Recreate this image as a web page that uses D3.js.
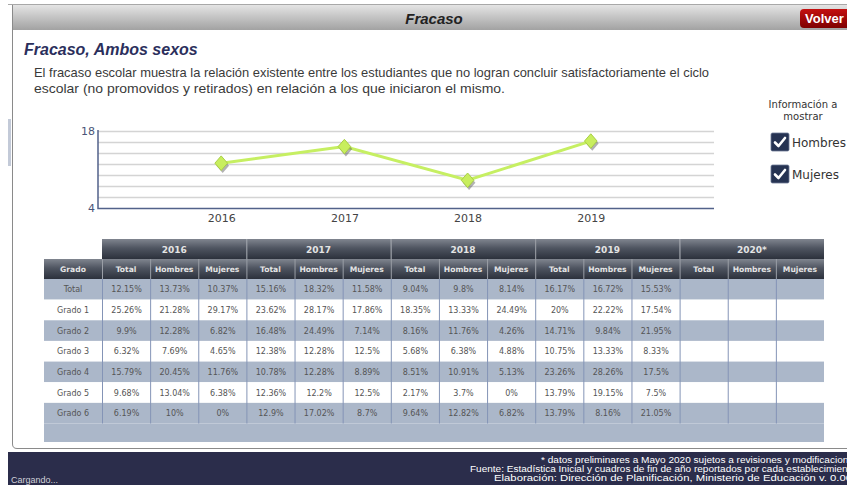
<!DOCTYPE html>
<html>
<head>
<meta charset="utf-8">
<script src="https://cdn.jsdelivr.net/npm/d3@7"></script>
<style>
  body { margin: 0; background: #fff; }
  svg { display: block; }
</style>
</head>
<body>
<div id="chart"></div>
<script>
// data
var years = ["2016", "2017", "2018", "2019", "2020*"];
var subCols = ["Total", "Hombres", "Mujeres"];
var grados = ["Total", "Grado 1", "Grado 2", "Grado 3", "Grado 4", "Grado 5", "Grado 6"];

var tabla2016 = [
  [12.15, 13.73, 10.37], [25.26, 21.28, 29.17], [9.9, 12.28, 6.82], [6.32, 7.69, 4.65],
  [15.79, 20.45, 11.76], [9.68, 13.04, 6.38], [6.19, 10, 0]];
var tabla2017 = [
  [15.16, 18.32, 11.58], [23.62, 28.17, 17.86], [16.48, 24.49, 7.14], [12.38, 12.28, 12.5],
  [10.78, 12.28, 8.89], [12.36, 12.2, 12.5], [12.9, 17.02, 8.7]];
var tabla2018 = [
  [9.04, 9.8, 8.14], [18.35, 13.33, 24.49], [8.16, 11.76, 4.26], [5.68, 6.38, 4.88],
  [8.51, 10.91, 5.13], [2.17, 3.7, 0], [9.64, 12.82, 6.82]];
var tabla2019 = [
  [16.17, 16.72, 15.53], [20, 22.22, 17.54], [14.71, 9.84, 21.95], [10.75, 13.33, 8.33],
  [23.26, 28.26, 17.5], [13.79, 19.15, 7.5], [13.79, 8.16, 21.05]];
var tabla2020 = [];

var chartYears = ["2016", "2017", "2018", "2019"];
var chartTotal = [12.15, 15.16, 9.04, 16.17];
var yTickLabels = [4, 18];

var tablas = [tabla2016, tabla2017, tabla2018, tabla2019, tabla2020];

var W = 847, H = 485;
var svg = d3.select("#chart").append("svg")
    .attr("width", W)
    .attr("height", H);

var defs = svg.append("defs");
function grad(id, stops) {
  var g = defs.append("linearGradient").attr("id", id)
      .attr("x1", 0).attr("y1", 0).attr("x2", 0).attr("y2", 1);
  stops.forEach(function(s) {
    g.append("stop").attr("offset", s[0]).attr("stop-color", s[1]);
  });
}
grad("hdr", [[0, "#e4e4e4"], [1, "#a2a2a2"]]);
grad("th", [[0, "#80858f"], [0.45, "#4f5561"], [1, "#2c313c"]]);
grad("volver", [[0, "#c41010"], [1, "#7e0000"]]);

var sans = "'Liberation Sans', Arial, sans-serif";
var verd = "'DejaVu Sans', Verdana, sans-serif";

// page frame
svg.append("line").attr("x1", 8).attr("x2", W).attr("y1", 4.5).attr("y2", 4.5)
    .attr("stroke", "#a8a8a8");
svg.append("rect").attr("x", 8).attr("y", 119).attr("width", 3).attr("height", 47)
    .attr("fill", "#c3cad8");
svg.append("path")
    .attr("d", "M12.5,5 L12.5,444 Q12.5,448.5 17,448.5 L" + W + ",448.5")
    .attr("fill", "none").attr("stroke", "#8a8a8a");

// header bar
svg.append("rect").attr("x", 13).attr("y", 5).attr("width", W - 13).attr("height", 25)
    .attr("fill", "url(#hdr)");
svg.append("text").attr("x", 434).attr("y", 24).attr("text-anchor", "middle")
    .style("font-family", sans).style("font-size", "15px")
    .style("font-weight", "bold").style("font-style", "italic").attr("fill", "#222")
    .text("Fracaso");
svg.append("rect").attr("x", 800).attr("y", 9).attr("width", 60).attr("height", 19)
    .attr("rx", 4).attr("fill", "url(#volver)");
svg.append("text").attr("x", 805).attr("y", 23)
    .style("font-family", sans).style("font-size", "13px")
    .style("font-weight", "bold").attr("fill", "#fff").text("Volver");

// titles
svg.append("text").attr("x", 24).attr("y", 55)
    .style("font-family", sans).style("font-size", "16px")
    .style("font-weight", "bold").style("font-style", "italic").attr("fill", "#2b2f5c")
    .text("Fracaso, Ambos sexos");
var desc = [
  { t: "El fracaso escolar muestra la relación existente entre los estudiantes que no logran concluir satisfactoriamente el ciclo", w: 675 },
  { t: "escolar (no promovidos y retirados) en relación a los que iniciaron el mismo.", w: 471 }];
svg.selectAll("text.desc").data(desc).enter().append("text")
    .attr("class", "desc")
    .attr("x", 34).attr("y", function(d, i) { return 77 + i * 16; })
    .attr("textLength", function(d) { return d.w; })
    .attr("lengthAdjust", "spacingAndGlyphs")
    .style("font-family", sans).style("font-size", "13.5px").attr("fill", "#3a3a3a")
    .text(function(d) { return d.t; });

// line chart
var x = d3.scalePoint().domain(chartYears).range([98, 714]).padding(1);
var y = d3.scaleLinear().domain([4, 18]).range([208, 131]);

var grid = svg.append("g");
grid.selectAll("line").data(y.ticks(7).filter(function(t) { return t > 4; }))
  .enter().append("line")
    .attr("x1", 98).attr("x2", 714)
    .attr("y1", function(d) { return y(d) + 0.5; })
    .attr("y2", function(d) { return y(d) + 0.5; })
    .attr("stroke", "#d4d4d4").attr("stroke-width", 1.5);

svg.append("path")
    .attr("d", "M98,130 L98,208.5 L714,208.5")
    .attr("fill", "none").attr("stroke", "#52628a").attr("stroke-width", 1.5);

svg.selectAll("text.ytick").data(yTickLabels).enter().append("text")
    .attr("class", "ytick")
    .attr("x", 95).attr("y", function(d) { return y(d) + 4; })
    .attr("text-anchor", "end")
    .style("font-family", verd).style("font-size", "11px").attr("fill", "#4a5578")
    .text(function(d) { return d; });

var xAxis = svg.append("g")
    .attr("transform", "translate(0,208)")
    .call(d3.axisBottom(x).tickSize(0).tickPadding(6));
xAxis.select(".domain").remove();
xAxis.selectAll("text").style("font-family", verd).style("font-size", "11px").attr("fill", "#444");

var pts = chartYears.map(function(d, i) { return [x(d), y(chartTotal[i])]; });
svg.append("path")
    .attr("d", d3.line()(pts))
    .attr("fill", "none").attr("stroke", "#c6ef62").attr("stroke-width", 3);

var diamond = {
  draw: function(ctx, size) {
    var r = Math.sqrt(size) / 2;
    ctx.moveTo(0, -r * 1.15);
    ctx.lineTo(r, 0);
    ctx.lineTo(0, r * 1.15);
    ctx.lineTo(-r, 0);
    ctx.closePath();
  }
};
var sym = d3.symbol().type(diamond).size(160);
svg.selectAll("path.shadow").data(pts).enter().append("path")
    .attr("class", "shadow")
    .attr("transform", function(d) { return "translate(" + (d[0] + 1.5) + "," + (d[1] + 2.5) + ")"; })
    .attr("d", sym).attr("fill", "#555").attr("opacity", 0.45);
svg.selectAll("path.mark").data(pts).enter().append("path")
    .attr("class", "mark")
    .attr("transform", function(d) { return "translate(" + d[0] + "," + d[1] + ")"; })
    .attr("d", sym).attr("fill", "#c8ee5e").attr("stroke", "#a9cf45").attr("stroke-width", 1);

// legend
svg.selectAll("text.leg").data(["Información a", "mostrar"]).enter().append("text")
    .attr("class", "leg")
    .attr("x", 803).attr("y", function(d, i) { return 108 + i * 12; })
    .attr("text-anchor", "middle")
    .style("font-family", verd).style("font-size", "10px").attr("fill", "#333")
    .text(function(d) { return d; });
var legItems = ["Hombres", "Mujeres"];
var lg = svg.selectAll("g.legitem").data(legItems).enter().append("g")
    .attr("class", "legitem")
    .attr("transform", function(d, i) { return "translate(771," + (133 + i * 32) + ")"; });
lg.append("rect").attr("width", 18).attr("height", 18).attr("rx", 1.5)
    .attr("fill", "#263352").attr("stroke", "#6c7895").attr("stroke-width", 0.8);
lg.append("path").attr("d", "M4,9.5 L7.5,13 L14,5")
    .attr("fill", "none").attr("stroke", "#fff").attr("stroke-width", 2.6)
    .attr("stroke-linecap", "round").attr("stroke-linejoin", "round");
lg.append("text").attr("x", 21).attr("y", 14)
    .style("font-family", verd).style("font-size", "12px").attr("fill", "#333")
    .text(function(d) { return d; });

// table
var colKeys = [];
years.forEach(function(yr) { subCols.forEach(function(c) { colKeys.push(yr + "|" + c); }); });
var tx0 = 44, tGradoX = 102, tx1 = 824;
var col = d3.scaleBand().domain(colKeys).range([tGradoX, tx1]);
var rowY = d3.scaleBand().domain(grados).range([279, 423.5]);
var yearBand = d3.scaleBand().domain(years).range([tGradoX, tx1]);

var tb = svg.append("g");
// year header
tb.selectAll("rect.yh").data(years).enter().append("rect")
    .attr("class", "yh")
    .attr("x", function(d) { return yearBand(d); }).attr("y", 239)
    .attr("width", yearBand.bandwidth()).attr("height", 20)
    .attr("fill", "url(#th)");
tb.append("rect").attr("x", tx0).attr("y", 259).attr("width", tx1 - tx0).attr("height", 20)
    .attr("fill", "url(#th)");
tb.selectAll("text.yh").data(years).enter().append("text")
    .attr("class", "yh")
    .attr("x", function(d) { return yearBand(d) + yearBand.bandwidth() / 2; }).attr("y", 252.5)
    .attr("text-anchor", "middle")
    .style("font-family", verd).style("font-size", "9px").style("font-weight", "bold")
    .attr("fill", "#e4e4e4").text(function(d) { return d; });
tb.append("text").attr("x", (tx0 + tGradoX) / 2).attr("y", 272).attr("text-anchor", "middle")
    .style("font-family", verd).style("font-size", "7.6px").style("font-weight", "bold")
    .attr("fill", "#e4e4e4").text("Grado");
tb.selectAll("text.sh").data(colKeys).enter().append("text")
    .attr("class", "sh")
    .attr("x", function(d) { return col(d) + col.bandwidth() / 2; }).attr("y", 272)
    .attr("text-anchor", "middle")
    .style("font-family", verd).style("font-size", "7.6px").style("font-weight", "bold")
    .attr("fill", "#e4e4e4").text(function(d) { return d.split("|")[1]; });
// header separators
tb.selectAll("line.ys").data(years.slice(1)).enter().append("line")
    .attr("class", "ys")
    .attr("x1", function(d) { return yearBand(d) + 0.5; }).attr("x2", function(d) { return yearBand(d) + 0.5; })
    .attr("y1", 239).attr("y2", 259).attr("stroke", "#9a9ea6");
tb.selectAll("line.ss").data([tGradoX].concat(colKeys.slice(1).map(function(k) { return col(k); })))
  .enter().append("line")
    .attr("class", "ss")
    .attr("x1", function(d) { return d + 0.5; }).attr("x2", function(d) { return d + 0.5; })
    .attr("y1", 259).attr("y2", 279).attr("stroke", "#9a9ea6");

// rows
tb.selectAll("rect.row").data(grados).enter().append("rect")
    .attr("class", "row")
    .attr("x", tx0).attr("y", function(d) { return rowY(d); })
    .attr("width", tx1 - tx0).attr("height", rowY.bandwidth())
    .attr("fill", function(d, i) { return i % 2 === 0 ? "#abb7c9" : "#fff"; });
tb.append("rect").attr("x", tx0).attr("y", 423.5).attr("width", tx1 - tx0).attr("height", 18.5)
    .attr("fill", "#abb7c9");
tb.selectAll("line.cs").data([tGradoX].concat(colKeys.slice(1).map(function(k) { return col(k); })))
  .enter().append("line")
    .attr("class", "cs")
    .attr("x1", function(d) { return d + 0.5; }).attr("x2", function(d) { return d + 0.5; })
    .attr("y1", 279).attr("y2", 423.5).attr("stroke", "#8494b6");

tb.selectAll("text.gr").data(grados).enter().append("text")
    .attr("class", "gr")
    .attr("x", (tx0 + tGradoX) / 2).attr("y", function(d) { return rowY(d) + rowY.bandwidth() / 2 + 3; })
    .attr("text-anchor", "middle")
    .style("font-family", verd).style("font-size", "8px").attr("fill", "#555")
    .text(function(d) { return d; });

var cells = [];
tablas.forEach(function(t, yi) {
  t.forEach(function(row, ri) {
    row.forEach(function(v, ci) {
      cells.push({ key: years[yi] + "|" + subCols[ci], row: grados[ri], v: v });
    });
  });
});
tb.selectAll("text.cell").data(cells).enter().append("text")
    .attr("class", "cell")
    .attr("x", function(d) { return col(d.key) + col.bandwidth() / 2 + 0.5; })
    .attr("y", function(d) { return rowY(d.row) + rowY.bandwidth() / 2 + 3; })
    .attr("text-anchor", "middle")
    .style("font-family", verd).style("font-size", "8px").attr("fill", "#555")
    .text(function(d) { return d.v + "%"; });

// footer
svg.append("rect").attr("x", 8).attr("y", 452).attr("width", W - 8).attr("height", H - 452)
    .attr("fill", "#2b2d4b");
var foot = [
  { x: 541, y: 463, w: 318, t: "*  datos preliminares a Mayo 2020 sujetos a revisiones y modificaciones" },
  { x: 470, y: 472, w: 386, t: "Fuente:  Estadística Inicial y cuadros de fin de año reportados por cada establecimiento" },
  { x: 494, y: 481, w: 358, t: "Elaboración: Dirección de Planificación, Ministerio de Educación v. 0.00" }];
svg.selectAll("text.foot").data(foot).enter().append("text")
    .attr("class", "foot")
    .attr("x", function(d) { return d.x; }).attr("y", function(d) { return d.y; })
    .attr("textLength", function(d) { return d.w; })
    .attr("lengthAdjust", "spacingAndGlyphs")
    .style("font-family", sans).style("font-size", "8.5px").attr("fill", "#fff")
    .text(function(d) { return d.t; });
svg.append("text").attr("x", 11).attr("y", 483)
    .style("font-family", sans).style("font-size", "9px").attr("fill", "#d0d0d8")
    .text("Cargando...");
</script>
</body>
</html>
